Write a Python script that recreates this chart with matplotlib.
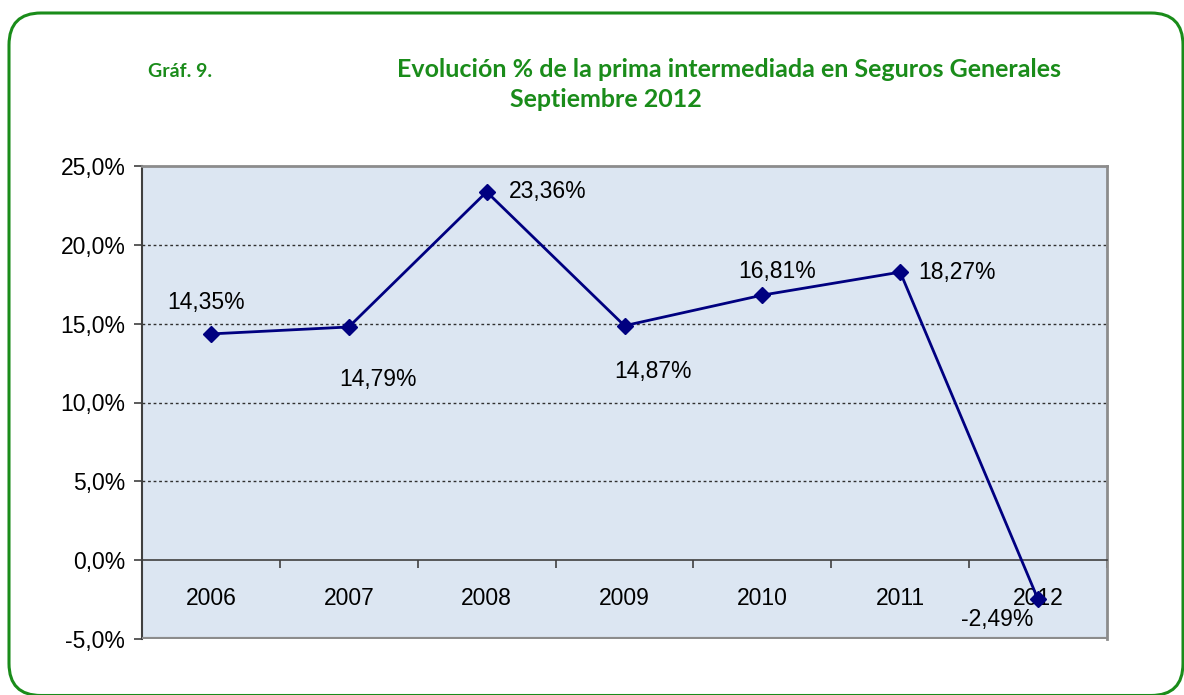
import matplotlib
matplotlib.use("Agg")
import matplotlib.pyplot as plt
from matplotlib.patches import FancyBboxPatch
import numpy as np

# datos del gráfico
anios = ["2006", "2007", "2008", "2009", "2010", "2011", "2012"]
evolucion = [14.35, 14.79, 23.36, 14.87, 16.81, 18.27, -2.49]
etiquetas = ["14,35%", "14,79%", "23,36%", "14,87%", "16,81%", "18,27%", "-2,49%"]
y_ticks = [-5, 0, 5, 10, 15, 20, 25]

verde = "#1a8c1a"
azul = "#000080"

fig = plt.figure(figsize=(11.84, 6.95), dpi=100)
fig.patch.set_facecolor("white")

# marco verde redondeado
marco = FancyBboxPatch((9, -0.5), 1174, 682.5, boxstyle="round,pad=0,rounding_size=32",
                       transform=None, facecolor="none", edgecolor=verde, linewidth=2.2)
fig.patches.append(marco)

# titulos
fig.text(148, 695 - 77, "Gráf. 9.", transform=None, color=verde, fontsize=14,
         fontweight="bold", family="Lato", va="baseline", ha="left")
fig.text(397, 695 - 77, "Evolución % de la prima intermediada en Seguros Generales",
         transform=None, color=verde, fontsize=18, fontweight="bold", family="Lato",
         va="baseline", ha="left")
fig.text(510, 695 - 107, "Septiembre 2012", transform=None, color=verde, fontsize=18,
         fontweight="bold", family="Lato", va="baseline", ha="left")

ax = fig.add_axes([142 / 1184, 56 / 695, 965 / 1184, 473 / 695])
ax.set_facecolor("#dce6f2")

x = np.arange(len(anios))
ax.plot(x, evolucion, color=azul, linewidth=2, marker="D", markersize=8, zorder=5)

ax.set_xlim(-0.5, len(anios) - 0.5)
ax.set_ylim(-5, 25)

# lineas de cuadricula punteadas
for v in [5, 10, 15, 20]:
    ax.axhline(v, color="#303030", linewidth=1, linestyle=(0, (2, 2)), zorder=1)

# ejes
ax.spines["bottom"].set_position(("data", 0))
ax.spines["bottom"].set_color("#404040")
ax.spines["bottom"].set_linewidth(1.2)
ax.spines["left"].set_color("#404040")
ax.spines["left"].set_linewidth(1.5)
for s in ["top", "right"]:
    ax.spines[s].set_color("#8c8c8c")
    ax.spines[s].set_linewidth(2)
ax.axhline(-5, color="#8c8c8c", linewidth=3, zorder=3)

ax.set_yticks(y_ticks)
ax.set_yticklabels([f"{v:.1f}%".replace(".", ",") for v in y_ticks],
                   fontsize=16.5, family="Liberation Sans")
ax.tick_params(axis="y", direction="out", length=6, width=1.2, color="#404040", pad=6)

ax.set_xticks(np.arange(len(anios) + 1) - 0.5)
ax.set_xticklabels([])
ax.tick_params(axis="x", which="major", direction="out", length=6, width=1.2, color="#404040")
ax.set_xticks(x, minor=True)
ax.set_xticklabels(anios, minor=True, fontsize=16.5, family="Liberation Sans")
ax.tick_params(axis="x", which="minor", length=0, pad=19)

# etiquetas de datos (desplazamientos en pixeles)
offsets = [(-5, 31, "center"), (29, -53, "center"), (22, 0, "left"), (28, -46, "center"),
           (15, 24, "center"), (18, 0, "left"), (-41, -20, "center")]
for xi, yi, lab, (dx, dy, ha) in zip(x, evolucion, etiquetas, offsets):
    ax.annotate(lab, (xi, yi), xytext=(dx, dy), textcoords="offset pixels",
                ha=ha, va="center", fontsize=16.5, family="Liberation Sans", color="black")

fig.savefig("out.png", dpi=100)
